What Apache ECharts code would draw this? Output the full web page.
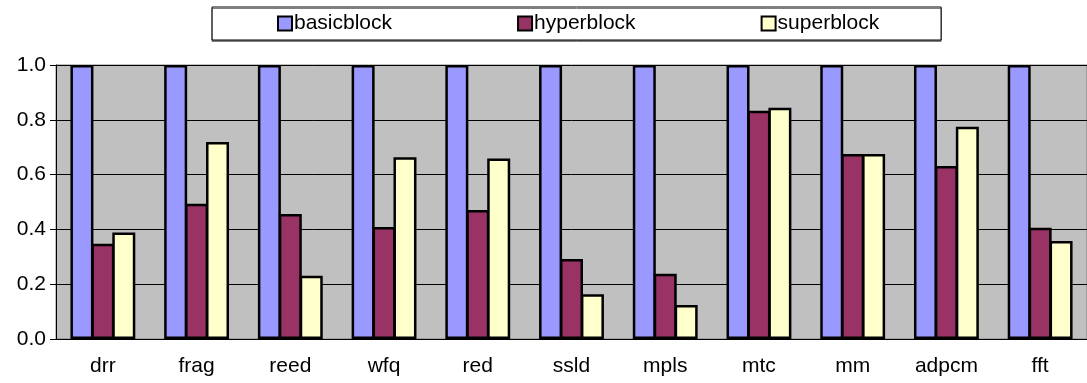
<!DOCTYPE html>
<html>
<head>
<meta charset="utf-8">
<script src="https://cdn.jsdelivr.net/npm/echarts@6/dist/echarts.min.js"></script>
<style>
  html, body { margin: 0; padding: 0; background: #fff; }
  #chart { width: 1087px; height: 383px; }
</style>
</head>
<body>
<div id="chart"></div>
<script>
// 基准程序
var categories = ['drr', 'frag', 'reed', 'wfq', 'red', 'ssld', 'mpls', 'mtc', 'mm', 'adpcm', 'fft'];
var basicblock = [1, 1, 1, 1, 1, 1, 1, 1, 1, 1, 1];
var hyperblock = [0.348, 0.494, 0.456, 0.409, 0.471, 0.292, 0.238, 0.833, 0.675, 0.631, 0.406];
var superblock = [0.389, 0.719, 0.231, 0.663, 0.659, 0.163, 0.124, 0.844, 0.675, 0.775, 0.358];
var yTicks = [0, 0.2, 0.4, 0.6, 0.8, 1.0];

var font = 'Liberation Sans, Arial, sans-serif';

function barSeries(name, data, color) {
  return {
    name: name,
    type: 'bar',
    data: data,
    barWidth: 23,
    barGap: '-9%',
    itemStyle: { color: color, borderColor: '#000', borderWidth: 2.5 }
  };
}

var option = {
  animation: false,
  textStyle: { fontFamily: font },
  legend: {
    left: 212,
    top: 7,
    padding: [6, 62, 6, 65],
    itemGap: 125,
    itemWidth: 14,
    itemHeight: 14,
    icon: 'rect',
    borderColor: '#000',
    borderWidth: 1,
    backgroundColor: '#fff',
    shadowColor: '#808080',
    shadowOffsetX: 0,
    shadowOffsetY: 1.5,
    textStyle: { fontSize: 21, color: '#000', fontFamily: font, padding: [0, 0, 0, -3] },
    data: ['basicblock', 'hyperblock', 'superblock']
  },
  grid: {
    left: 56,
    top: 65,
    bottom: 44,
    right: -6,
    show: true,
    backgroundColor: '#c0c0c0',
    borderColor: '#808080',
    borderWidth: 1
  },
  xAxis: {
    type: 'category',
    data: categories,
    axisLine: { lineStyle: { color: '#000', width: 1 } },
    axisTick: { length: 6, lineStyle: { color: '#000' } },
    axisLabel: { fontSize: 21, color: '#000', margin: 17, fontFamily: font }
  },
  yAxis: {
    type: 'value',
    min: yTicks[0],
    max: yTicks[yTicks.length - 1],
    interval: 0.2,
    axisLine: { show: true, lineStyle: { color: '#000', width: 1 } },
    axisTick: { show: true, length: 6, lineStyle: { color: '#000' } },
    axisLabel: {
      fontSize: 21, color: '#000', margin: 10, fontFamily: font,
      formatter: function (v) { return v.toFixed(1); }
    },
    splitLine: { lineStyle: { color: '#000', width: 1 } }
  },
  series: [
    barSeries('basicblock', basicblock, '#9999ff'),
    barSeries('hyperblock', hyperblock, '#993366'),
    barSeries('superblock', superblock, '#ffffcc')
  ]
};

var myChart = echarts.init(document.getElementById('chart'));
myChart.setOption(option);
</script>
</body>
</html>
